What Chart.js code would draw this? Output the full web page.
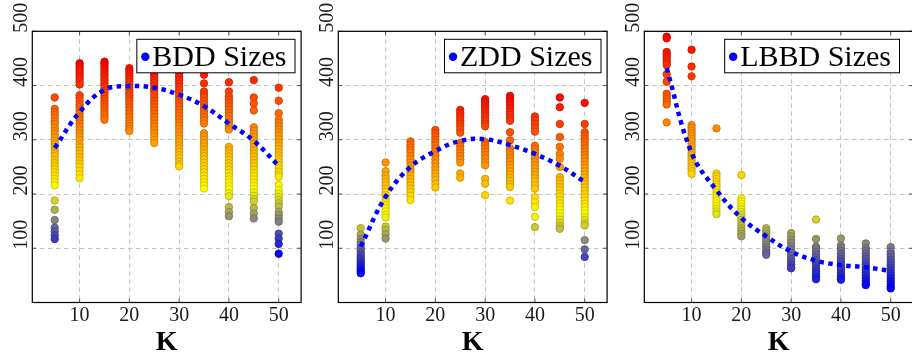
<!DOCTYPE html>
<html>
<head>
<meta charset="utf-8">
<script src="https://cdn.jsdelivr.net/npm/chart.js@4.4.1/dist/chart.umd.min.js"></script>
<style>
  html, body { margin: 0; padding: 0; background: #fff; overflow: hidden; width: 912px; height: 360px; }
  .panel { position: absolute; top: 0; width: 306px; height: 360px; }
  canvas { display: block; }
</style>
</head>
<body>
<div class="panel" style="left:0px"><canvas id="bdd" width="306" height="360"></canvas></div>
<div class="panel" style="left:306px"><canvas id="zdd" width="306" height="360"></canvas></div>
<div class="panel" style="left:612px"><canvas id="lbbd" width="306" height="360"></canvas></div>
<script>
// K values shared by all three panels
const kValues = [5, 10, 15, 20, 25, 30, 35, 40, 45, 50];
const xTickValues = [10, 20, 30, 40, 50];
const yTickValues = [100, 200, 300, 400, 500];

// BDD sizes, one list per K
const bdd05 = [378, 357, 351, 346, 340, 334, 329, 322, 316, 310, 304, 298, 293, 287, 281, 275, 270, 263, 257, 251, 246, 240, 234, 228, 222, 216, 188, 171, 152, 138, 131, 124, 117];
const bdd10 = [441, 437, 432, 427, 422, 417, 412, 407, 402, 382, 377, 371, 365, 360, 354, 348, 342, 336, 330, 324, 318, 312, 306, 300, 292, 286, 280, 274, 268, 262, 256, 250, 243, 236, 229];
const bdd15 = [444, 440, 436, 431, 427, 422, 418, 413, 409, 404, 400, 395, 390, 386, 381, 376, 371, 366, 361, 356, 351, 346, 341, 337];
const bdd20 = [432, 427, 422, 417, 412, 407, 402, 397, 392, 387, 382, 377, 372, 366, 360, 354, 348, 342, 336, 330, 325, 320, 316];
const bdd25 = [425, 420, 415, 410, 405, 400, 395, 390, 384, 378, 372, 366, 360, 354, 348, 342, 336, 330, 324, 318, 312, 306, 300, 294];
const bdd30 = [422, 416, 410, 404, 398, 392, 386, 380, 374, 368, 362, 356, 350, 344, 338, 332, 326, 320, 314, 308, 302, 296, 290, 284, 278, 272, 266, 260, 255, 251];
const bdd35 = [420, 404, 389, 384, 378, 372, 366, 360, 354, 348, 342, 336, 330, 312, 306, 300, 294, 288, 282, 276, 270, 264, 258, 252, 246, 240, 234, 228, 222, 216, 210];
const bdd40 = [406, 389, 380, 374, 368, 362, 356, 350, 344, 338, 332, 326, 319, 287, 281, 275, 269, 263, 257, 251, 245, 239, 233, 227, 221, 215, 209, 202, 196, 176, 167, 159];
const bdd45 = [410, 378, 367, 354, 323, 317, 311, 305, 299, 293, 287, 281, 275, 269, 263, 257, 251, 245, 239, 233, 227, 221, 215, 209, 203, 197, 191, 186, 174, 164, 155];
const bdd50 = [396, 372, 349, 337, 331, 325, 319, 313, 307, 301, 295, 289, 283, 277, 271, 265, 259, 253, 247, 241, 236, 232, 217, 207, 201, 195, 189, 183, 177, 167, 161, 155, 149, 127, 118, 108, 90];
const bddTrend = [285, 351, 392, 399, 396, 383, 362, 330, 298, 252];

// ZDD sizes, one list per K
const zdd05 = [137, 125, 117, 111, 106, 101, 97, 93, 89, 85, 81, 77, 73, 69, 65, 61, 57, 54];
const zdd10 = [258, 242, 234, 228, 222, 216, 210, 204, 198, 192, 186, 180, 174, 168, 162, 157, 140, 134, 126, 118];
const zdd15 = [297, 291, 286, 281, 276, 270, 264, 258, 252, 246, 240, 234, 228, 222, 216, 210, 204, 197, 189];
const zdd20 = [318, 312, 306, 300, 295, 290, 284, 278, 271, 264, 257, 250, 244, 238, 232, 226, 219, 212];
const zdd25 = [355, 350, 345, 340, 335, 330, 325, 319, 313, 294, 288, 282, 276, 270, 264, 258, 238, 230];
const zdd30 = [375, 370, 365, 360, 355, 350, 345, 340, 335, 330, 325, 296, 290, 284, 278, 272, 266, 259, 253, 228, 219, 198];
const zdd35 = [381, 376, 370, 364, 358, 352, 346, 340, 335, 314, 299, 284, 278, 272, 266, 260, 254, 248, 242, 236, 230, 224, 218, 213, 188];
const zdd40 = [343, 336, 329, 322, 315, 289, 283, 277, 271, 265, 259, 253, 247, 241, 235, 229, 223, 216, 210, 194, 185, 176, 158, 139];
const zdd45 = [378, 360, 329, 305, 287, 274, 265, 250, 231, 225, 219, 213, 207, 201, 195, 189, 183, 177, 171, 165, 159, 153, 147, 141, 136];
const zdd50 = [368, 329, 314, 308, 302, 296, 290, 284, 278, 272, 266, 260, 254, 248, 242, 236, 230, 224, 218, 212, 206, 200, 194, 188, 182, 176, 170, 164, 158, 152, 146, 142, 115, 98, 84];
const zddTrend = [103, 195, 250, 279, 298, 301, 290, 274, 252, 222];

// LBBD sizes, one list per K
const lbbd05 = [490, 487, 462, 458, 454, 450, 446, 442, 438, 421, 407, 385, 380, 375, 370, 365, 332];
const lbbd10 = [466, 435, 417, 327, 322, 317, 312, 307, 302, 297, 292, 287, 282, 277, 272, 267, 262, 257, 252, 247, 242, 237];
const lbbd15 = [321, 238, 233, 228, 223, 218, 213, 208, 203, 198, 193, 188, 183, 178, 173, 168, 163];
const lbbd20 = [235, 192, 187, 182, 177, 172, 167, 162, 157, 152, 147, 142, 137, 132, 127, 122];
const lbbd25 = [137, 132, 127, 122, 117, 112, 107, 102, 97, 92, 88];
const lbbd30 = [128, 122, 116, 110, 104, 98, 92, 86, 80, 75, 70, 65, 63];
const lbbd35 = [153, 117, 103, 98, 93, 88, 83, 78, 73, 68, 63, 58, 53, 48, 43];
const lbbd40 = [118, 105, 100, 95, 90, 85, 80, 75, 70, 65, 60, 55, 50, 45, 42];
const lbbd45 = [109, 100, 95, 90, 85, 80, 75, 70, 65, 60, 55, 50, 45, 40, 35, 32];
const lbbd50 = [102, 94, 89, 84, 79, 74, 69, 64, 59, 54, 49, 44, 39, 34, 29, 26];
const lbbdTrend = [432, 276, 207, 156, 122, 94, 77, 69, 65, 58];

const FONT = "'Liberation Serif', 'Times New Roman', serif";

// blue -> yellow -> orange -> red colour map
const mapStops = [[0, 0, 255], [255, 255, 0], [255, 128, 0], [255, 0, 0]];
function mapColor(t, dark) {
  t = Math.max(0, Math.min(1, t));
  const s = t * 3;
  const i = Math.min(2, Math.floor(s));
  const f = s - i;
  const a = mapStops[i], b = mapStops[i + 1];
  const k = dark ? 0.8 : 1;
  const c = [0, 1, 2].map(j => Math.round((a[j] + (b[j] - a[j]) * f) * k));
  return `rgb(${c[0]},${c[1]},${c[2]})`;
}

function toPoints(columns) {
  const pts = [];
  columns.forEach((col, i) => col.forEach(v => pts.push({ x: kValues[i], y: v })));
  return pts;
}

// axis frame, inner tick marks, rotated y labels and the legend box
const decorPlugin = {
  id: 'decor',
  afterDraw(chart, args, opts) {
    const { ctx, chartArea: a, scales } = chart;
    const xs = scales.x, ys = scales.y;
    ctx.save();
    // tick marks on all four sides
    ctx.strokeStyle = '#555';
    ctx.lineWidth = 1;
    ctx.setLineDash([]);
    ctx.beginPath();
    xTickValues.forEach(v => {
      const px = xs.getPixelForValue(v);
      ctx.moveTo(px, a.bottom); ctx.lineTo(px, a.bottom - 4);
      ctx.moveTo(px, a.top); ctx.lineTo(px, a.top + 4);
    });
    yTickValues.forEach(v => {
      const py = ys.getPixelForValue(v);
      ctx.moveTo(a.left, py); ctx.lineTo(a.left + 4, py);
      ctx.moveTo(a.right, py); ctx.lineTo(a.right - 4, py);
    });
    ctx.stroke();
    // frame
    ctx.strokeStyle = '#000';
    ctx.lineWidth = 1.2;
    ctx.strokeRect(a.left, a.top, a.right - a.left, a.bottom - a.top);
    // y tick labels, reading upward from the tick
    ctx.fillStyle = '#1a1a1a';
    ctx.font = `20px ${FONT}`;
    ctx.textAlign = 'left';
    ctx.textBaseline = 'alphabetic';
    yTickValues.forEach(v => {
      const py = ys.getPixelForValue(v);
      ctx.save();
      ctx.translate(a.left - 5, py + 1.5);
      ctx.rotate(-Math.PI / 2);
      ctx.fillText(String(v), 0, 0);
      ctx.restore();
    });
    // legend
    ctx.font = `30px ${FONT}`;
    const tw = ctx.measureText(opts.label).width;
    const right = opts.right, top = a.top + 8, h = 33.5;
    const w = tw + 24;
    const left = right - w;
    ctx.fillStyle = '#fff';
    ctx.fillRect(left, top, w, h);
    ctx.strokeStyle = '#000';
    ctx.lineWidth = 1;
    ctx.strokeRect(left, top, w, h);
    ctx.fillStyle = '#0000ff';
    ctx.beginPath();
    ctx.arc(left + 8.5, top + 17.5, 4.2, 0, Math.PI * 2);
    ctx.fill();
    ctx.fillStyle = '#000';
    ctx.textBaseline = 'alphabetic';
    ctx.fillText(opts.label, left + 15.5, top + 26.8);
    ctx.restore();
  }
};

function makePanel(id, label, columns, trend, legendRight) {
  const pts = toPoints(columns);
  const vals = pts.map(p => p.y);
  const lo = Math.min(...vals), hi = Math.max(...vals);
  const norm = v => (v - lo) / (hi - lo);
  new Chart(document.getElementById(id), {
    type: 'scatter',
    data: {
      datasets: [
        {
          type: 'line',
          data: kValues.map((k, i) => ({ x: k, y: trend[i] })),
          borderColor: '#0000ff',
          borderWidth: 4.5,
          borderDash: [4.5, 4.5],
          borderCapStyle: 'butt',
          pointRadius: 0,
          tension: 0.4,
          fill: false,
          order: 0
        },
        {
          type: 'scatter',
          data: pts,
          pointRadius: 3.7,
          pointBorderWidth: 0.9,
          pointBackgroundColor: c => mapColor(norm(c.raw ? c.raw.y : lo), false),
          pointBorderColor: c => mapColor(norm(c.raw ? c.raw.y : lo), true),
          order: 1
        }
      ]
    },
    options: {
      responsive: false,
      animation: false,
      devicePixelRatio: 1,
      events: [],
      layout: { padding: { top: 31.3, right: 2.7, bottom: 0, left: 0 } },
      plugins: {
        legend: { display: false },
        tooltip: { enabled: false },
        decor: { label: label, right: legendRight }
      },
      scales: {
        x: {
          type: 'linear',
          min: 0.5,
          max: 54.5,
          afterBuildTicks: s => { s.ticks = xTickValues.map(v => ({ value: v })); },
          afterFit: s => { s.height = 57.5; },
          grid: { color: '#c4c4c4', lineWidth: 1, drawTicks: false },
          border: { display: false, dash: [4.5, 3.5] },
          ticks: {
            font: { family: FONT, size: 20 },
            color: '#1a1a1a',
            padding: 1.5,
            maxRotation: 0,
            autoSkip: false
          },
          title: {
            display: true,
            text: 'K',
            color: '#000',
            font: { family: FONT, size: 28, weight: 'bold' },
            padding: { top: 0, bottom: 0 }
          }
        },
        y: {
          type: 'linear',
          min: 0,
          max: 500,
          afterBuildTicks: s => { s.ticks = yTickValues.map(v => ({ value: v })); },
          afterFit: s => { s.width = 32.3; },
          grid: { color: '#c4c4c4', lineWidth: 1, drawTicks: false },
          border: { display: false, dash: [4.5, 3.5] },
          ticks: { display: false }
        }
      }
    },
    plugins: [decorPlugin]
  });
}

makePanel('bdd', 'BDD Sizes', [bdd05, bdd10, bdd15, bdd20, bdd25, bdd30, bdd35, bdd40, bdd45, bdd50], bddTrend, 295);
makePanel('zdd', 'ZDD Sizes', [zdd05, zdd10, zdd15, zdd20, zdd25, zdd30, zdd35, zdd40, zdd45, zdd50], zddTrend, 295);
makePanel('lbbd', 'LBBD Sizes', [lbbd05, lbbd10, lbbd15, lbbd20, lbbd25, lbbd30, lbbd35, lbbd40, lbbd45, lbbd50], lbbdTrend, 287.5);
</script>
</body>
</html>
